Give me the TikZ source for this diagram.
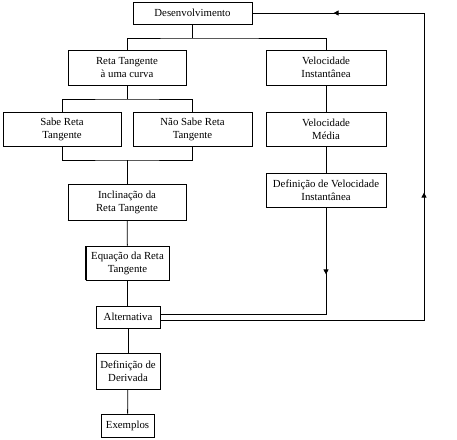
\documentclass[tikz,border=0pt]{standalone}
\usepackage{fontspec}
\setmainfont{Liberation Serif}
\usetikzlibrary{arrows.meta,decorations.markings}
\begin{document}
\begin{tikzpicture}[x=1pt,y=-1pt,
  box/.style={draw,line width=0.8pt,align=center,inner sep=0pt,font=\fontsize{10.8}{13}\selectfont},
  conn/.style={line width=0.8pt},
  midarrow/.style={postaction={decorate,decoration={markings,mark=at position #1 with {\arrow{Triangle[width=5pt,length=5pt]}}}}}]
\useasboundingbox (0,0) rectangle (457,439);
\node[box,minimum width=119pt,minimum height=22pt] (des) at (192.5,13) {Desenvolvimento};
\node[box,minimum width=118pt,minimum height=35pt] (reta) at (127,67.5) {Reta Tangente\\à uma curva};
\node[box,minimum width=120pt,minimum height=35pt] (veli) at (326,67.5) {Velocidade\\Instantânea};
\node[box,minimum width=118pt,minimum height=34pt] (sabe) at (62,129) {Sabe Reta\\Tangente};
\node[box,minimum width=119pt,minimum height=34pt] (nsabe) at (192.5,129) {Não Sabe Reta\\Tangente};
\node[box,minimum width=120pt,minimum height=34pt] (velm) at (326,129) {Velocidade\\Média};
\node[box,minimum width=118pt,minimum height=36pt] (incl) at (127,202) {Inclinação da\\Reta Tangente};
\node[box,minimum width=83pt,minimum height=34pt] (eq) at (127.5,263) {Equação da Reta\\Tangente};
\node[box,minimum width=120pt,minimum height=34pt] (defv) at (326,190) {Definição de Velocidade\\Instantânea};
\node[box,minimum width=64pt,minimum height=22pt] (alt) at (128,317) {Alternativa};
\node[box,minimum width=64pt,minimum height=36pt] (defd) at (128,371) {Definição de\\Derivada};
\node[box,minimum width=53pt,minimum height=23pt] (ex) at (127.5,425.5) {Exemplos};
% shadows
\draw[line width=1.8pt] (incl.south west) -- (incl.south east);
\draw[line width=1.8pt] (eq.south west) -- (eq.north west);
% junctions
\coordinate (j1) at (192.5,38);
\coordinate (j2) at (127,99);
\coordinate (j3) at (127,160);
\coordinate (c1) at (326,314);
\coordinate (c2) at (424,320);
\coordinate (c3) at (424,13);
\draw[conn] (des) -- (j1);
\draw[conn] (reta.north) |- (j1) -| (veli.north);
\draw[conn] (reta) -- (j2);
\draw[conn] (sabe.north) |- (j2) -| (nsabe.north);
\draw[conn] (sabe.south) |- (j3) -| (nsabe.south);
\draw[conn] (j3) -- (incl);
\draw[conn] (veli) -- (velm);
\draw[conn] (velm) -- (defv);
\draw[conn] (incl) -- (eq);
\draw[conn] (eq) -- ([xshift=-0.5pt]alt.north);
\draw[conn] (alt) -- (defd);
\draw[conn] (defd) -- (ex);
\draw[conn,midarrow=67pt] (defv.south) -- (c1) -- (alt.east |- c1);
\draw[conn,midarrow=391pt,midarrow=661pt] (alt.east |- c2) -- (c2) -- (c3) -- (des.east);
\end{tikzpicture}
\end{document}
